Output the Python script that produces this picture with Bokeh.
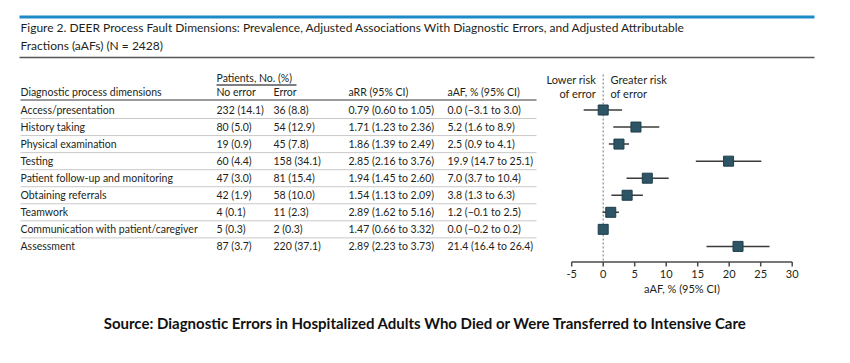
from bokeh.plotting import figure
from bokeh.models import Range1d, ColumnDataSource
from bokeh.core.properties import value
from bokeh.embed import file_html
from bokeh.resources import INLINE

# ---------------- data ----------------
dims = ["Access/presentation", "History taking", "Physical examination", "Testing",
        "Patient follow-up and monitoring", "Obtaining referrals", "Teamwork",
        "Communication with patient/caregiver", "Assessment"]
no_error_n = [232, 80, 19, 60, 47, 42, 4, 5, 87]
no_error_pct = [14.1, 5.0, 0.9, 4.4, 3.0, 1.9, 0.1, 0.3, 3.7]
error_n = [36, 54, 45, 158, 81, 58, 11, 2, 220]
error_pct = [8.8, 12.9, 7.8, 34.1, 15.4, 10.0, 2.3, 0.3, 37.1]
arr = [0.79, 1.71, 1.86, 2.85, 1.94, 1.54, 2.89, 1.47, 2.89]
arr_lo = [0.60, 1.23, 1.39, 2.16, 1.45, 1.13, 1.62, 0.66, 2.23]
arr_hi = [1.05, 2.36, 2.49, 3.76, 2.60, 2.09, 5.16, 3.32, 3.73]
aaf = [0.0, 5.2, 2.5, 19.9, 7.0, 3.8, 1.2, 0.0, 21.4]
aaf_lo = [-3.1, 1.6, 0.9, 14.7, 3.7, 1.3, -0.1, -0.2, 16.4]
aaf_hi = [3.0, 8.9, 4.1, 25.1, 10.4, 6.3, 2.5, 0.2, 26.4]
x_ticks = [-5, 0, 5, 10, 15, 20, 25, 30]
x_tick_labels = ["-5", "0", "5", "10", "15", "20", "25", "30"]

title1 = "Figure 2. DEER Process Fault Dimensions: Prevalence, Adjusted Associations With Diagnostic Errors, and Adjusted Attributable"
title2 = "Fractions (aAFs) (N = 2428)"
source_txt = "Source: Diagnostic Errors in Hospitalized Adults Who Died or Were Transferred to Intensive Care"

# ---------------- layout constants ----------------
W, H = 834, 347
ZERO_PX = 602.7      # pixel position of aAF = 0
PX_PER_UNIT = 6.30
ROW0, ROWH = 109.5, 17.05
FONT = value("Lato")
BODY = "10.5px"
AXF = "11px"
DARK = "#231f20"


def fmt(v, d=1):
    return f"{v:.{d}f}".replace("-", "\u2212")


x0 = -ZERO_PX / PX_PER_UNIT
x1 = x0 + W / PX_PER_UNIT

p = figure(width=W, height=H, x_range=Range1d(x0, x1), y_range=Range1d(H, 0),
           output_backend="svg", toolbar_location=None, min_border=0,
           x_axis_location=None, y_axis_location=None)
p.extra_x_ranges = {"px": Range1d(0, W)}
p.grid.visible = False
p.outline_line_color = None
p.background_fill_color = "white"
p.border_fill_color = "white"

# ---------------- header ----------------
p.segment(x0=[19], y0=[16.5], x1=[814], y1=[16.5], x_range_name="px",
          line_color="#1f8ac8", line_width=3)
p.text(x=[20, 20], y=[26.5, 45], text=[title1, title2], x_range_name="px",
       text_font=FONT, text_font_size="12px", text_color=DARK,
       text_baseline="middle", text_align="left")
p.segment(x0=[19], y0=[57], x1=[814], y1=[57], x_range_name="px",
          line_color="#555555", line_width=1.5)

# ---------------- table ----------------
p.text(x=[216], y=[77.5], text=["Patients, No. (%)"], x_range_name="px",
       text_font=FONT, text_font_size=BODY, text_color=DARK,
       text_baseline="middle", text_align="left")
p.segment(x0=[216], y0=[84.5], x1=[296], y1=[84.5], x_range_name="px",
          line_color="#555555", line_width=1.5)

col_x = [20, 216, 273, 348, 447]
headers = ["Diagnostic process dimensions", "No error", "Error", "aRR (95% CI)", "aAF, % (95% CI)"]
p.text(x=col_x, y=[91.5] * 5, text=headers, x_range_name="px",
       text_font=FONT, text_font_size=BODY, text_color=DARK,
       text_baseline="middle", text_align="left")
p.segment(x0=[20], y0=[99.5], x1=[536], y1=[99.5], x_range_name="px",
          line_color="#7a7a7a", line_width=1.5)

n = len(dims)
row_y = [ROW0 + ROWH * i for i in range(n)]
c_noerr = [f"{a} ({fmt(b)})" for a, b in zip(no_error_n, no_error_pct)]
c_err = [f"{a} ({fmt(b)})" for a, b in zip(error_n, error_pct)]
c_arr = [f"{fmt(a, 2)} ({fmt(l, 2)} to {fmt(h, 2)})" for a, l, h in zip(arr, arr_lo, arr_hi)]
c_aaf = [f"{fmt(a)} ({fmt(l)} to {fmt(h)})" for a, l, h in zip(aaf, aaf_lo, aaf_hi)]

for cx, col in zip(col_x, [dims, c_noerr, c_err, c_arr, c_aaf]):
    p.text(x=[cx] * n, y=row_y, text=col, x_range_name="px",
           text_font=FONT, text_font_size=BODY, text_color=DARK,
           text_baseline="middle", text_align="left")

sep_y = [y + ROWH / 2 for y in row_y[:-1]]
p.segment(x0=[20] * len(sep_y), y0=sep_y, x1=[536] * len(sep_y), y1=sep_y,
          x_range_name="px", line_color="#c9c9c9", line_width=1)

# ---------------- forest plot ----------------
p.text(x=[595.5, 595.5], y=[79, 92.5], text=["Lower risk", "of error"], x_range_name="px",
       text_font=FONT, text_font_size=AXF, text_color=DARK,
       text_baseline="middle", text_align="right")
p.text(x=[610, 610], y=[79, 92.5], text=["Greater risk", "of error"], x_range_name="px",
       text_font=FONT, text_font_size=AXF, text_color=DARK,
       text_baseline="middle", text_align="left")

AX_Y = 261.5
p.segment(x0=[0], y0=[74], x1=[0], y1=[AX_Y], line_color="#8a8a8a",
          line_width=1.2, line_dash="2 2")

src = ColumnDataSource(dict(y=row_y, est=aaf, lo=aaf_lo, hi=aaf_hi))
p.segment(x0="lo", y0="y", x1="hi", y1="y", source=src, line_color="#3b3b3b", line_width=1.5)
p.scatter(x="est", y="y", source=src, marker="square", size=10,
          fill_color="#2d5566", line_color="#1f3d4a", line_width=1)

p.segment(x0=[x_ticks[0]], y0=[AX_Y], x1=[x_ticks[-1]], y1=[AX_Y],
          line_color="#4a4a4a", line_width=1.5)
p.segment(x0=x_ticks, y0=[AX_Y] * len(x_ticks), x1=x_ticks, y1=[AX_Y + 4.5] * len(x_ticks),
          line_color="#4a4a4a", line_width=1.5)
p.text(x=x_ticks, y=[273] * len(x_ticks), text=x_tick_labels,
       text_font=FONT, text_font_size=AXF, text_color=DARK,
       text_baseline="middle", text_align="center")
p.text(x=[(x_ticks[0] + x_ticks[-1]) / 2], y=[287.5], text=["aAF, % (95% CI)"],
       text_font=FONT, text_font_size=AXF, text_color=DARK,
       text_baseline="middle", text_align="center")

# ---------------- source ----------------
p.text(x=[425], y=[322], text=[source_txt], x_range_name="px",
       text_font=FONT, text_font_size="15px", text_font_style="bold", text_color="#111111",
       text_baseline="middle", text_align="center")

open("out.html", "w").write(file_html(p, INLINE))
